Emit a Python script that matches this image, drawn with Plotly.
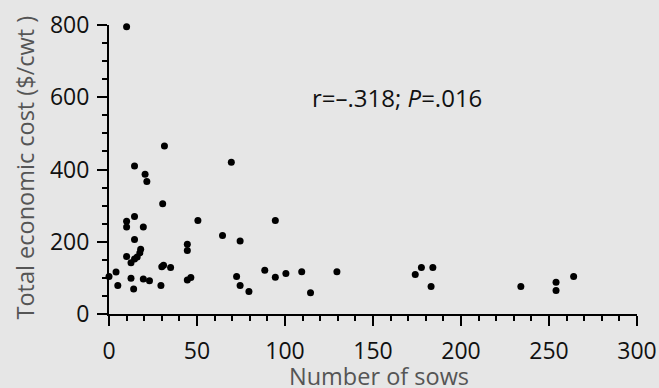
import plotly.graph_objects as go

# Data
sows = [10, 31.5, 69.5, 14.5, 20.5, 21.5, 30.5, 14.5, 10, 10, 19.5, 50.5, 94.5,
        14.5, 44.5, 44.5, 64.5, 74.5, 18, 17.5, 16, 14.5, 10, 12.5, 4, 0, 5,
        12.5, 14, 19.5, 23, 29.5, 30, 31, 35, 44.5, 46.5, 72.5, 74.5, 79.5,
        88.5, 94.5, 100.5, 109.5, 114.5, 129.5, 174, 177.5, 184, 183, 234,
        254, 254, 264]
cost = [795, 465, 420, 410, 387, 367, 305, 270, 257, 241, 241, 259, 259,
        206, 193, 176, 217, 202, 179, 169, 158, 152, 159, 142, 116, 104, 79,
        99, 69, 97, 92, 79, 131, 135, 129, 94, 101, 104, 79, 62,
        121, 102, 112, 117, 59, 117, 109, 129, 129, 76, 76,
        88, 65, 104]

x_ticks = [0, 50, 100, 150, 200, 250, 300]
y_ticks = [0, 200, 400, 600, 800]
x_title = "Number of sows"
y_title = "Total economic cost ($/cwt )"
stat_text = "r=\u2013.318; <i>P</i>=.016"

FONT = "Open Sans"
BG = "#e6e6e6"

fig = go.Figure()
fig.add_trace(go.Scatter(
    x=sows, y=cost, mode="markers",
    marker=dict(color="black", size=7),
    cliponaxis=False, showlegend=False, hoverinfo="skip"
))

axis_common = dict(
    showline=True, linecolor="black", linewidth=2,
    ticks="outside", ticklen=10, tickwidth=2, tickcolor="black",
    showgrid=False, zeroline=False, automargin=False,
    tickfont=dict(family=FONT, size=23, color="#111111"),
)

fig.update_xaxes(
    range=[0, 300], tickvals=x_ticks, ticktext=[str(v) for v in x_ticks],
    minor=dict(dtick=10, ticks="outside", ticklen=5, tickwidth=1.5, tickcolor="black"),
    ticklabelstandoff=5,
    **axis_common
)
fig.update_yaxes(
    range=[0, 800], tickvals=y_ticks, ticktext=[str(v) for v in y_ticks],
    minor=dict(dtick=50, ticks="outside", ticklen=5, tickwidth=1.5, tickcolor="black"),
    ticklabelstandoff=3,
    **axis_common
)

# Axis titles
fig.add_annotation(
    x=0.512, y=0, xref="paper", yref="paper", text=x_title, showarrow=False,
    font=dict(family=FONT, size=23.5, color="#555555"),
    xanchor="center", yanchor="middle", yshift=-62
)
fig.add_annotation(
    x=0, y=0.5, xref="paper", yref="paper", text=y_title, showarrow=False,
    font=dict(family=FONT, size=23.5, color="#555555"), textangle=-90,
    xanchor="center", yanchor="middle", xshift=-85, yshift=2
)

fig.add_annotation(
    x=163.5, y=600, xref="x", yref="y", text=stat_text, showarrow=False,
    font=dict(family=FONT, size=24, color="#111111"),
    xanchor="center", yanchor="middle"
)

fig.update_layout(
    width=659, height=388,
    margin=dict(l=109, r=22, t=25, b=74),
    paper_bgcolor=BG, plot_bgcolor=BG,
    font=dict(family=FONT),
)

fig.write_html(
    "out.html",
    config={"displayModeBar": False},
    post_script="document.body.style.margin='0';document.body.style.overflow='hidden';document.body.style.background='#e6e6e6';",
)
